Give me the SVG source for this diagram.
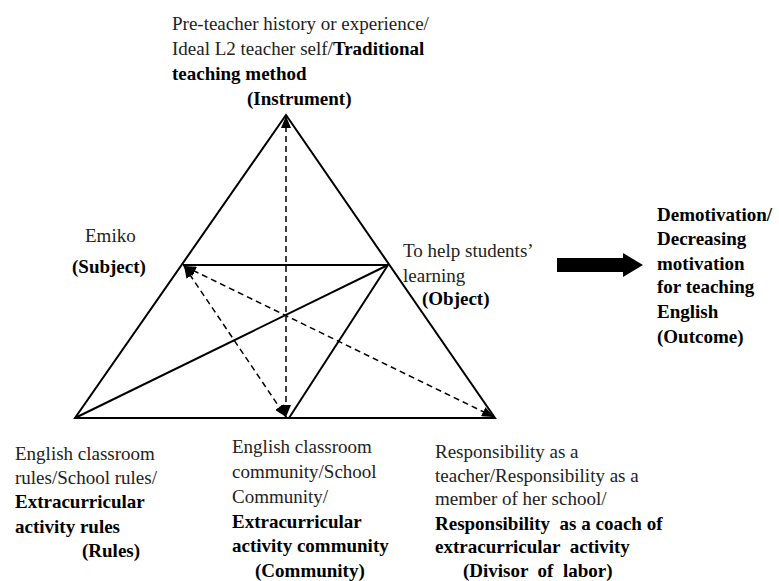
<svg xmlns="http://www.w3.org/2000/svg" width="779" height="581" viewBox="0 0 779 581">
<style>
text{font-family:"Liberation Serif","Times New Roman",serif;font-size:19px;fill:#222}
.b{font-weight:bold;fill:#000}
.pre{white-space:pre}
.solid{stroke:#000;stroke-width:2;fill:none}
.dash{stroke:#000;stroke-width:1.5;fill:none;stroke-dasharray:6 4}
</style>
<defs>
<marker id="ah" viewBox="0 0 12 10" refX="12" refY="5" markerWidth="12" markerHeight="10" markerUnits="userSpaceOnUse" orient="auto-start-reverse">
<path d="M0,0 L12,5 L0,10 z" fill="#000"/>
</marker>
</defs>
<rect width="779" height="581" fill="#fff"/>
<g id="connectors">
<polygon class="solid" points="286,115 75,418 495,418"/>
<line class="solid" x1="183" y1="265" x2="388" y2="265"/>
<line class="solid" x1="75" y1="418" x2="388" y2="265"/>
<line class="solid" x1="388" y1="265" x2="289" y2="418"/>
<line class="dash" x1="286" y1="116" x2="286" y2="417" marker-start="url(#ah)" marker-end="url(#ah)"/>
<line class="dash" x1="184" y1="266" x2="286" y2="417" marker-start="url(#ah)" marker-end="url(#ah)"/>
<line class="dash" x1="184" y1="266" x2="494" y2="417" marker-start="url(#ah)" marker-end="url(#ah)"/>
<path d="M557,258 H623 V253 L643,265 L623,277 V272 H557 z" fill="#000"/>
</g>
<g id="instrument">
<text x="172" y="30">Pre-teacher history or experience/</text>
<text x="172" y="55">Ideal L2 teacher self/<tspan class="b">Traditional</tspan></text>
<text x="172" y="80" class="b">teaching method</text>
<text x="247" y="105" class="b">(Instrument)</text>
</g>
<g id="subject">
<text x="85" y="242">Emiko</text>
<text x="72" y="273" class="b">(Subject)</text>
</g>
<g id="object">
<text x="403" y="257">To help students’</text>
<text x="403" y="282">learning</text>
<text x="422" y="305" class="b">(Object)</text>
</g>
<g id="outcome">
<text x="657" y="221" class="b">Demotivation/</text>
<text x="657" y="245" class="b">Decreasing</text>
<text x="657" y="270" class="b">motivation</text>
<text x="657" y="293" class="b">for teaching</text>
<text x="657" y="318" class="b">English</text>
<text x="657" y="343" class="b">(Outcome)</text>
</g>
<g id="rules">
<text x="15" y="460">English classroom</text>
<text x="15" y="484">rules/School rules/</text>
<text x="15" y="508" class="b">Extracurricular</text>
<text x="15" y="533" class="b">activity rules</text>
<text x="82" y="557" class="b">(Rules)</text>
</g>
<g id="community">
<text x="232" y="453">English classroom</text>
<text x="232" y="478">community/School</text>
<text x="232" y="503">Community/</text>
<text x="232" y="528" class="b">Extracurricular</text>
<text x="232" y="552" class="b">activity community</text>
<text x="255" y="577" class="b">(Community)</text>
</g>
<g id="division">
<text x="435" y="458">Responsibility as a</text>
<text x="435" y="482">teacher/Responsibility as a</text>
<text x="435" y="505">member of her school/</text>
<text x="435" y="530" class="b pre">Responsibility  as a coach of</text>
<text x="435" y="553" class="b pre">extracurricular  activity</text>
<text x="463" y="577" class="b pre">(Divisor  of  labor)</text>
</g>
</svg>
